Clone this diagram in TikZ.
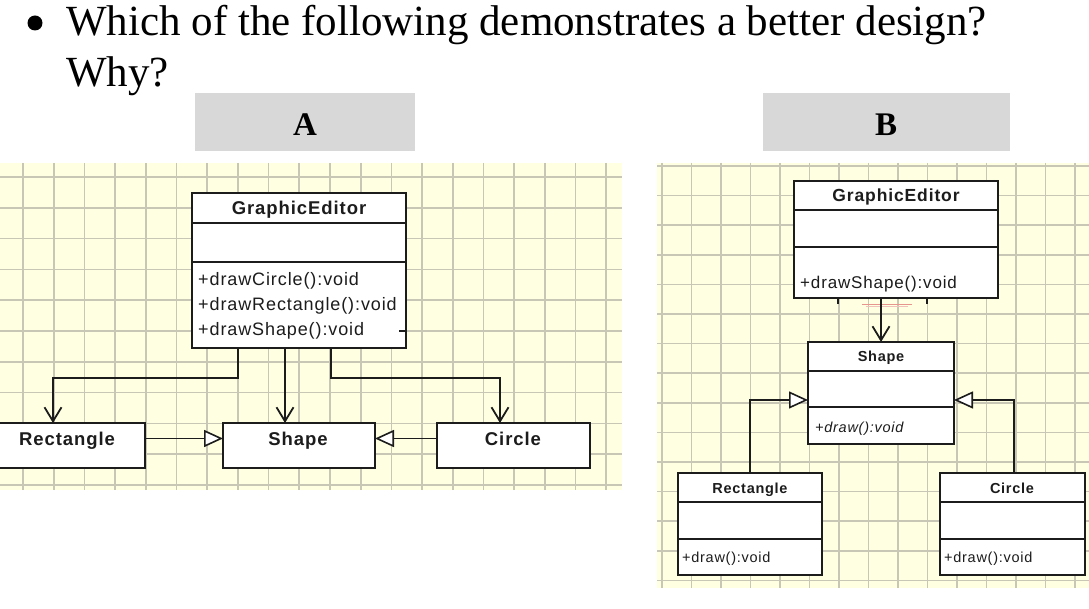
\documentclass[tikz,border=0pt]{standalone}
\usepackage{fontspec}
\setmainfont{Liberation Serif}
\newfontfamily\umlfont[LetterSpace=5]{Liberation Sans}
\usetikzlibrary{arrows.meta}
\definecolor{bgc}{RGB}{255,255,226}
\definecolor{gridc}{RGB}{200,199,182}
\definecolor{labc}{RGB}{216,216,216}
\definecolor{inkc}{RGB}{28,28,28}
\definecolor{artc}{RGB}{230,150,140}
\begin{document}
\begin{tikzpicture}[x=1pt,y=-1pt,
  gridline/.style={draw=gridc, line width=1.7pt},
  classbox/.style={draw=inkc, fill=white, line width=1.8pt, rectangle, inner sep=0pt, outer sep=0pt},
  sepline/.style={draw=inkc, line width=1.6pt},
  dep/.style={draw=inkc, line width=1.8pt, -{Straight Barb[length=14pt,width=17pt,line width=1.8pt]}},
  gen/.style={draw=inkc, line width=1.8pt, -{Triangle[open,length=19pt,width=17pt,fill=white,line width=1.6pt]}},
  titleA/.style={font=\umlfont\bfseries\fontsize{18.5}{22}\selectfont, text=inkc, inner sep=0pt, anchor=base},
  methA/.style={font=\umlfont\fontsize{18}{25}\selectfont, text=inkc, inner sep=0pt, anchor=base west},
  titleB/.style={font=\umlfont\bfseries\fontsize{14.5}{17}\selectfont, text=inkc, inner sep=0pt, anchor=base},
  methB/.style={font=\umlfont\fontsize{14.5}{17}\selectfont, text=inkc, inner sep=0pt, anchor=base west},
  labbox/.style={fill=labc, draw=none, inner sep=0pt},
  labtext/.style={font=\bfseries\fontsize{33}{36}\selectfont, inner sep=0pt, anchor=base},
  heading/.style={font=\fontsize{43}{50}\selectfont, inner sep=0pt, anchor=base west}
]
\useasboundingbox (0,0) rectangle (1089,609);
\fill[white] (0,0) rectangle (1089,609);

% heading
\node[circle, fill=black, minimum size=15pt, inner sep=0pt] (bul) at (35,23) {};
\node[heading] (q1) at (66,36) {Which of the following demonstrates a better design?};
\node[heading] (q2) at (66,87) {Why?};

% labels
\node[labbox, minimum width=220pt, minimum height=58pt] (labA) at (305,122) {};
\node[labtext] (labAt) at (305,136) {A};
\node[labbox, minimum width=247pt, minimum height=58pt] (labB) at (886.5,122) {};
\node[labtext] (labBt) at (886,136) {B};

% grid panel A
\fill[bgc] (0,163) rectangle (622,490);
\foreach \i in {0,...,19} \draw[gridline] ({23+30.7*\i},163) -- ({23+30.7*\i},490);
\foreach \j in {0,...,10} \draw[gridline] (0,{177+30.8*\j}) -- (622,{177+30.8*\j});

% grid panel B
\fill[bgc] (657,163) rectangle (1089,588);
\foreach \i in {0,...,14} \draw[gridline] ({662+29.5*\i},163) -- ({662+29.5*\i},588);
\foreach \j in {0,...,14} \draw[gridline] (657,{166+29.6*\j}) -- (1089,{166+29.6*\j});

% ---------------- Panel A ----------------
\node[classbox, minimum width=214pt, minimum height=155pt] (geA) at (299,270.5) {};
\draw[sepline] (geA.west |- 0,223) -- (geA.east |- 0,223);
\draw[sepline] (geA.west |- 0,262) -- (geA.east |- 0,262);
\node[titleA] (geAt) at (299,215) {GraphicEditor};
\node[methA] (geAm1) at (198,286) {+drawCircle():void};
\node[methA] (geAm2) at (198,311) {+drawRectangle():void};
\node[methA] (geAm3) at (198,336) {+drawShape():void};
\draw[inkc, line width=1.5pt] (399,331) -- (geA.east |- 0,331);

\node[classbox, minimum width=148pt, minimum height=45pt] (rectA) at (71,445.5) {};
\node[titleA] (rectAt) at (67,445) {Rectangle};
\node[classbox, minimum width=152pt, minimum height=45pt] (shapeA) at (299,445.5) {};
\node[titleA] (shapeAt) at (298,445) {Shape};
\node[classbox, minimum width=153pt, minimum height=45pt] (circA) at (513.5,445.5) {};
\node[titleA] (circAt) at (513,445) {Circle};

\draw[dep] ([xshift=-61pt]geA.south) -- ++(0,30) -| ([xshift=-18pt]rectA.north);
\draw[dep] ([xshift=-14pt]geA.south) -- ([xshift=-14pt]shapeA.north);
\draw[dep] ([xshift=32pt]geA.south) -- ++(0,30) -| ([xshift=-13.5pt]circA.north);
\draw[gen] ([yshift=7pt]rectA.east) -- ([yshift=7pt]shapeA.west);
\draw[gen] ([yshift=7pt]circA.west) -- ([yshift=7pt]shapeA.east);

% ---------------- Panel B ----------------
\node[classbox, minimum width=204pt, minimum height=117pt] (geB) at (896,239.5) {};
\draw[sepline] (geB.west |- 0,210) -- (geB.east |- 0,210);
\draw[sepline] (geB.west |- 0,247) -- (geB.east |- 0,247);
\node[font=\umlfont\bfseries\fontsize{17.5}{20}\selectfont, text=inkc, inner sep=0pt, anchor=base] (geBt) at (896,202) {GraphicEditor};
\node[font=\umlfont\fontsize{17}{20}\selectfont, text=inkc, inner sep=0pt, anchor=base west] (geBm) at (800,289) {+drawShape():void};
\draw[artc, line width=0.9pt] (862,304) -- (912,304);
\draw[artc!60, line width=0.7pt] (866,306.5) -- (908,306.5);
\draw[inkc, line width=1.2pt] (838,298) -- (838,304);
\draw[inkc, line width=1.2pt] (927,298) -- (927,304);

\node[classbox, minimum width=146pt, minimum height=102pt] (shapeB) at (881,393) {};
\draw[sepline] (shapeB.west |- 0,371) -- (shapeB.east |- 0,371);
\draw[sepline] (shapeB.west |- 0,407) -- (shapeB.east |- 0,407);
\node[titleB] (shapeBt) at (881,362) {Shape};
\node[methB, font=\umlfont\itshape\fontsize{14.5}{17}\selectfont] (shapeBm) at (815,432) {+draw():void};

\node[classbox, minimum width=144pt, minimum height=102pt] (rectB) at (750,524) {};
\draw[sepline] (rectB.west |- 0,502) -- (rectB.east |- 0,502);
\draw[sepline] (rectB.west |- 0,539) -- (rectB.east |- 0,539);
\node[titleB] (rectBt) at (750,493) {Rectangle};
\node[methB] (rectBm) at (682,562) {+draw():void};

\node[classbox, minimum width=145pt, minimum height=102pt] (circB) at (1012.5,524) {};
\draw[sepline] (circB.west |- 0,502) -- (circB.east |- 0,502);
\draw[sepline] (circB.west |- 0,539) -- (circB.east |- 0,539);
\node[titleB] (circBt) at (1012,493) {Circle};
\node[methB] (circBm) at (944,562) {+draw():void};

\draw[dep] ([xshift=-15pt]geB.south) -- (shapeB.north);
\draw[gen] (rectB.north) |- ([yshift=-7pt]shapeB.west);
\draw[gen] ([xshift=1.5pt]circB.north) |- ([yshift=-7pt]shapeB.east);
\end{tikzpicture}
\end{document}
